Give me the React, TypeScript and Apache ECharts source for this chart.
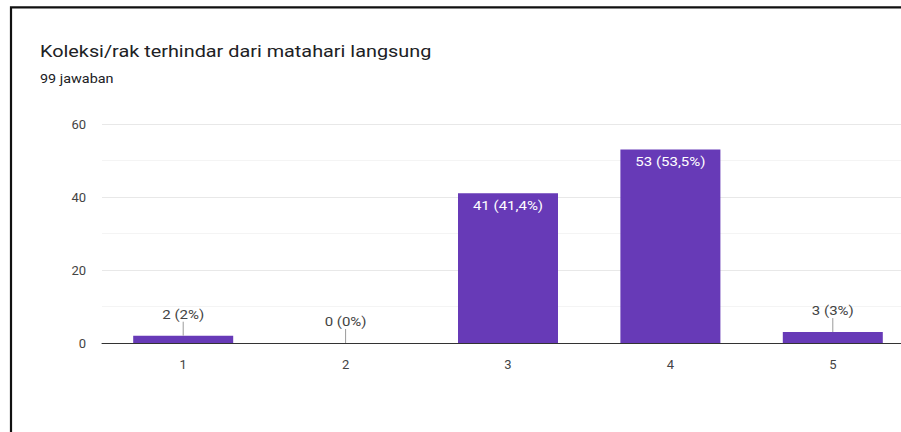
import React, { useEffect, useRef } from "react";
import * as echarts from "echarts";

const TITLE = "Koleksi/rak terhindar dari matahari langsung";
const SUBTITLE = "99 jawaban";
const categories = ["1", "2", "3", "4", "5"];
const counts = [2, 0, 41, 53, 3];
const total = 99;
const yTicks = [0, 20, 40, 60];

const FONT = "Roboto, 'Noto Sans', sans-serif";
const SX = 1.25; // horizontal stretch of the text glyphs
const BAR_COLOR = "#673ab7";

function pctLabel(v: number): string {
  const p = Math.round((v / total) * 1000) / 10;
  const s = Number.isInteger(p) ? String(p) : p.toFixed(1).replace(".", ",");
  return `${v} (${s}%)`;
}

export default function App() {
  const ref = useRef<HTMLDivElement>(null);

  useEffect(() => {
    document.documentElement.style.overflow = "hidden";
    document.body.style.margin = "0";
    document.body.style.overflow = "hidden";
    if (!ref.current) return;
    const chart = echarts.init(ref.current, null, { renderer: "svg" });

    const labelData = counts.map((v, i) => [i, v]);

    chart.setOption({
      animation: false,
      backgroundColor: "#ffffff",
      grid: { left: 102, right: 0, top: 124, bottom: 89, containLabel: false },
      xAxis: {
        type: "category",
        data: categories,
        axisLine: { show: true, lineStyle: { color: "#333333", width: 1 } },
        axisTick: { show: false },
        axisLabel: { color: "#444444", fontFamily: FONT, fontSize: 13, margin: 15 },
      },
      yAxis: {
        type: "value",
        min: yTicks[0],
        max: yTicks[yTicks.length - 1],
        interval: 20,
        axisLine: { show: false },
        axisTick: { show: false },
        axisLabel: { color: "#444444", fontFamily: FONT, fontSize: 13, margin: 16 },
        splitLine: { show: true, lineStyle: { color: "#e8e8e8", width: 1 } },
        minorTick: { show: false, splitNumber: 2 },
        minorSplitLine: { show: true, lineStyle: { color: "#f4f4f4", width: 1 } },
      },
      graphic: [
        {
          type: "polyline",
          shape: { points: [[11, 432], [11, 7.3], [914, 7.3]] },
          style: { stroke: "#111111", lineWidth: 2.2, fill: "none" },
          z: 100,
        },
        {
          type: "text",
          x: 40,
          y: 43,
          scaleX: 1.24,
          style: {
            text: TITLE,
            fill: "#202124",
            font: `16px ${FONT}`,
            verticalAlign: "top",
          },
        },
        {
          type: "text",
          x: 40,
          y: 73,
          scaleX: 1.2,
          style: {
            text: SUBTITLE,
            fill: "#202124",
            font: `12px ${FONT}`,
            verticalAlign: "top",
          },
        },
      ],
      series: [
        {
          type: "bar",
          data: counts,
          barWidth: 100,
          itemStyle: { color: BAR_COLOR },
          z: 2,
        },
        {
          type: "custom",
          data: labelData,
          z: 5,
          silent: true,
          renderItem: (params: any, api: any) => {
            const idx = api.value(0);
            const val = api.value(1);
            const top = api.coord([idx, val]);
            const base = api.coord([idx, 0]);
            const h = base[1] - top[1];
            const text = pctLabel(val);
            if (h > 26) {
              return {
                type: "text",
                x: top[0],
                y: top[1] + 12,
                scaleX: SX,
                style: {
                  text,
                  fill: "#ffffff",
                  font: `12px ${FONT}`,
                  align: "center",
                  verticalAlign: "middle",
                },
              };
            }
            return {
              type: "group",
              children: [
                {
                  type: "line",
                  shape: { x1: top[0], y1: top[1], x2: top[0], y2: top[1] - 14 },
                  style: { stroke: "#9a9a9a", lineWidth: 1 },
                },
                {
                  type: "text",
                  x: top[0],
                  y: top[1] - 21,
                  scaleX: SX,
                  style: {
                    text,
                    fill: "#444444",
                    font: `12px ${FONT}`,
                    align: "center",
                    verticalAlign: "middle",
                  },
                },
              ],
            };
          },
        },
      ],
    });

    return () => chart.dispose();
  }, []);

  return (
    <div style={{ position: "absolute", left: 0, top: 0, width: 901, height: 432, overflow: "hidden" }}>
      <div ref={ref} style={{ width: 914, height: 432 }} />
    </div>
  );
}
